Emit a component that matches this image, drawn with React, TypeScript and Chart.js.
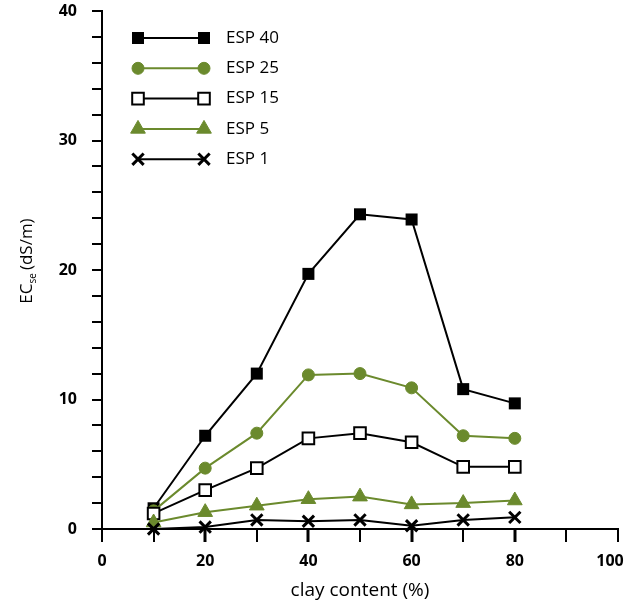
import React, { useEffect, useRef } from 'react';
import { Chart, registerables, PointElement } from 'chart.js';

Chart.register(...registerables);

// ---- data ----
const clayContent = [10, 20, 30, 40, 50, 60, 70, 80];
const esp40 = [1.6, 7.2, 12.0, 19.7, 24.3, 23.9, 10.8, 9.7];
const esp25 = [1.4, 4.7, 7.4, 11.9, 12.0, 10.9, 7.2, 7.0];
const esp15 = [1.2, 3.0, 4.7, 7.0, 7.4, 6.7, 4.8, 4.8];
const esp5 = [0.5, 1.3, 1.8, 2.3, 2.5, 1.9, 2.0, 2.2];
const esp1 = [0.0, 0.15, 0.7, 0.6, 0.7, 0.25, 0.7, 0.9];
const seriesLabels = ['ESP 40', 'ESP 25', 'ESP 15', 'ESP 5', 'ESP 1'];
const xTitle = 'clay content (%)';
const yTitleMain = 'EC';
const yTitleSub = 'se';
const yTitleUnit = '(dS/m)';

const GREEN = '#6b8a2d';
const BLACK = '#000000';
const FONT = '"Open Sans", "DejaVu Sans", sans-serif';

const toPoints = (ys: number[]) => clayContent.map((x, i) => ({ x, y: ys[i] }));

const legendAndTitlePlugin = {
  id: 'customLegendTitle',
  afterDraw(chart: any) {
    const ctx: CanvasRenderingContext2D = chart.ctx;
    // legend
    const rowY0 = 38;
    const rowGap = 30.3;
    chart.data.datasets.forEach((ds: any, i: number) => {
      const y = rowY0 + i * rowGap;
      const meta = chart.getDatasetMeta(i);
      const ptOpts = meta.data[0] ? meta.data[0].options : null;
      ctx.save();
      ctx.strokeStyle = ds.borderColor;
      ctx.lineWidth = ds.borderWidth;
      ctx.beginPath();
      ctx.moveTo(138, y);
      ctx.lineTo(204, y);
      ctx.stroke();
      ctx.restore();
      if (ptOpts) {
        [138, 204].forEach((x) => {
          const el: any = new (PointElement as any)({ x, y, options: ptOpts, skip: false });
          el.draw(ctx);
        });
      }
      ctx.save();
      ctx.fillStyle = BLACK;
      ctx.font = `500 17px ${FONT}`;
      ctx.textBaseline = 'middle';
      ctx.textAlign = 'left';
      ctx.fillText(ds.label, 226, y);
      ctx.restore();
    });

    // y axis title with subscript
    ctx.save();
    ctx.translate(32, 261);
    ctx.rotate(-Math.PI / 2);
    ctx.fillStyle = BLACK;
    ctx.textBaseline = 'alphabetic';
    ctx.textAlign = 'left';
    const fMain = `500 17px ${FONT}`;
    const fSub = `500 10px ${FONT}`;
    ctx.font = fMain;
    const w1 = ctx.measureText(yTitleMain).width;
    const w3 = ctx.measureText(yTitleUnit).width;
    ctx.font = fSub;
    const w2 = ctx.measureText(yTitleSub).width;
    const gap = 3;
    const total = w1 + w2 + gap + w3;
    let x = -total / 2;
    ctx.font = fMain;
    ctx.fillText(yTitleMain, x, 0);
    x += w1;
    ctx.font = fSub;
    ctx.fillText(yTitleSub, x, 4);
    x += w2 + gap;
    ctx.font = fMain;
    ctx.fillText(yTitleUnit, x, 0);
    ctx.restore();
  },
};

export default function App() {
  const ref = useRef<HTMLCanvasElement | null>(null);

  useEffect(() => {
    if (!ref.current) return;
    const chart = new Chart(ref.current, {
      type: 'line',
      data: {
        datasets: [
          {
            label: seriesLabels[0],
            data: toPoints(esp40),
            borderColor: BLACK,
            borderWidth: 2,
            backgroundColor: BLACK,
            pointStyle: 'rect',
            pointRadius: 8.5,
            pointBorderWidth: 0,
            pointBackgroundColor: BLACK,
            pointBorderColor: BLACK,
            order: 5,
            clip: false,
          },
          {
            label: seriesLabels[1],
            data: toPoints(esp25),
            borderColor: GREEN,
            borderWidth: 2,
            backgroundColor: GREEN,
            pointStyle: 'circle',
            pointRadius: 6,
            pointBorderWidth: 1,
            pointBackgroundColor: GREEN,
            pointBorderColor: GREEN,
            order: 4,
            clip: false,
          },
          {
            label: seriesLabels[2],
            data: toPoints(esp15),
            borderColor: BLACK,
            borderWidth: 2,
            backgroundColor: '#ffffff',
            pointStyle: 'rect',
            pointRadius: 8.2,
            pointBorderWidth: 2,
            pointBackgroundColor: '#ffffff',
            pointBorderColor: BLACK,
            order: 3,
            clip: false,
          },
          {
            label: seriesLabels[3],
            data: toPoints(esp5),
            borderColor: GREEN,
            borderWidth: 2,
            backgroundColor: GREEN,
            pointStyle: 'triangle',
            pointRadius: 8.5,
            pointBorderWidth: 1,
            pointBackgroundColor: GREEN,
            pointBorderColor: GREEN,
            order: 2,
            clip: false,
          },
          {
            label: seriesLabels[4],
            data: toPoints(esp1),
            borderColor: BLACK,
            borderWidth: 2,
            backgroundColor: BLACK,
            pointStyle: 'crossRot',
            pointRadius: 8,
            pointBorderWidth: 3,
            pointBackgroundColor: BLACK,
            pointBorderColor: BLACK,
            order: 1,
            clip: false,
          },
        ],
      },
      options: {
        animation: false,
        responsive: false,
        maintainAspectRatio: false,
        layout: { padding: { top: 11, right: 12, bottom: 0, left: 0 } },
        plugins: {
          legend: { display: false },
          tooltip: { enabled: false },
        },
        elements: { line: { tension: 0 } },
        scales: {
          x: {
            type: 'linear',
            min: 0,
            max: 100,
            afterFit: (s: any) => {
              s.height = 81;
              s.paddingLeft = 0;
              s.paddingRight = 0;
            },
            border: { display: true, color: BLACK, width: 2 },
            grid: {
              drawOnChartArea: false,
              drawTicks: true,
              tickLength: 13,
              color: BLACK,
              lineWidth: 2,
              tickWidth: (c: any) =>
                c.tick && c.tick.value % 20 === 0 && c.tick.value > 0 && c.tick.value < 100 ? 3 : 2,
            },
            ticks: {
              stepSize: 10,
              autoSkip: false,
              maxRotation: 0,
              padding: 10,
              color: BLACK,
              font: { family: FONT, size: 16, weight: 'bold' },
              callback: (v: any) => {
                const n = Number(v);
                if (n % 20 !== 0) return '';
                return n === 100 ? '100\u2002\u2002' : String(n);
              },
            },
            title: {
              display: true,
              text: xTitle,
              color: BLACK,
              font: { family: FONT, size: 19, weight: 500 },
              padding: { top: 0, bottom: 8 },
            },
          },
          y: {
            type: 'linear',
            min: 0,
            max: 40,
            afterFit: (s: any) => {
              s.width = 102;
              s.paddingTop = 0;
              s.paddingBottom = 0;
            },
            border: { display: true, color: BLACK, width: 2 },
            grid: {
              drawOnChartArea: false,
              drawTicks: true,
              tickLength: 10,
              color: BLACK,
              lineWidth: 2,
            },
            ticks: {
              stepSize: 2,
              autoSkip: false,
              padding: 15,
              color: BLACK,
              font: { family: FONT, size: 16, weight: 'bold' },
              callback: (v: any) => (Number(v) % 10 === 0 ? String(v) : ''),
            },
          },
        },
      },
      plugins: [legendAndTitlePlugin],
    } as any);
    return () => chart.destroy();
  }, []);

  return (
    <div style={{ position: 'absolute', left: 0, top: 0, width: 630, height: 610, background: '#fff' }}>
      <canvas ref={ref} width={630} height={610} style={{ width: 630, height: 610, display: 'block' }} />
    </div>
  );
}
